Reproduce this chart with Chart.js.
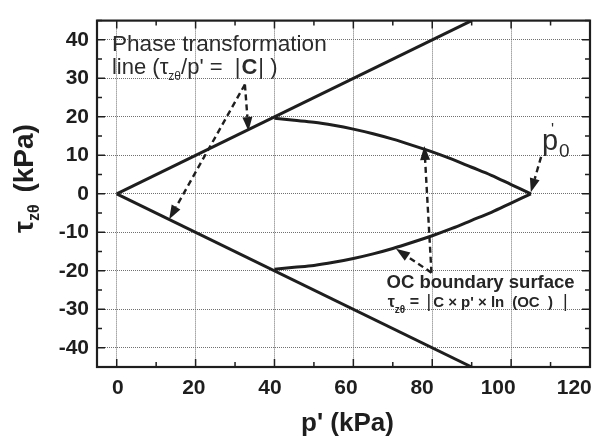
<!DOCTYPE html>
<html><head><meta charset="utf-8">
<script src="https://cdn.jsdelivr.net/npm/chart.js@4"></script>
<style>html,body{margin:0;padding:0;background:#fff;overflow:hidden}canvas{display:block}</style>
</head><body>
<canvas id="c" width="597" height="438"></canvas>
<script>
// ---- data ----
const xTicks = [0, 20, 40, 60, 80, 100, 120];
const yTicks = [-40, -30, -20, -10, 0, 10, 20, 30, 40];
const ptlX = [0, 90];
const ptlUpper = [0, 45];
const ptlLower = [0, -45];
const ocX = [40, 45, 50, 55, 60, 65, 70, 75, 80, 85, 90, 95, 100, 105];
const ocUpper = [19.6, 19.1, 18.6, 17.8, 16.8, 15.6, 14.2, 12.6, 10.9, 9.0, 6.9, 4.8, 2.4, 0];
const ocLower = [-19.6, -19.1, -18.6, -17.8, -16.8, -15.6, -14.2, -12.6, -10.9, -9.0, -6.9, -4.8, -2.4, 0];
// annotation arrows (data space): start / end
const arrowStart = [[32.5, 28.4], [32.5, 28.4], [107.6, 9.6], [79.8, -20.5], [79.8, -20.5]];
const arrowEnd   = [[33.4, 16.3], [13.3, -6.6], [105.0, 0.4], [78.0, 12.4], [70.8, -14.3]];

const FONT = '"Liberation Sans", Arial, Helvetica, sans-serif';
const INK = '#1e1e1e';
const mk = (xs, ys) => xs.map((x, i) => ({x: x, y: ys[i]}));
const lineStyle = {showLine: true, borderColor: INK, borderWidth: 3, pointRadius: 0, fill: false};

function runs(ctx, x, y, parts) {
  for (const p of parts) {
    ctx.font = p.f;
    ctx.fillText(p.t, x, y + (p.dy || 0));
    x += ctx.measureText(p.t).width + (p.gap || 0);
  }
  return x;
}

const decor = {
  id: 'decor',
  afterDatasetsDraw(chart) {
    const ctx = chart.ctx, xs = chart.scales.x, ys = chart.scales.y;
    ctx.save();
    ctx.strokeStyle = INK; ctx.fillStyle = INK; ctx.lineWidth = 2.4;
    for (let i = 0; i < arrowStart.length; i++) {
      const x1 = xs.getPixelForValue(arrowStart[i][0]), y1 = ys.getPixelForValue(arrowStart[i][1]);
      const x2 = xs.getPixelForValue(arrowEnd[i][0]), y2 = ys.getPixelForValue(arrowEnd[i][1]);
      const a = Math.atan2(y2 - y1, x2 - x1), L = 14, W = 5;
      const bx = x2 - L * Math.cos(a), by = y2 - L * Math.sin(a);
      ctx.setLineDash([6, 4]);
      ctx.beginPath(); ctx.moveTo(x1, y1); ctx.lineTo(bx, by); ctx.stroke();
      ctx.setLineDash([]);
      ctx.beginPath();
      ctx.moveTo(x2, y2);
      ctx.lineTo(bx + W * Math.sin(a), by - W * Math.cos(a));
      ctx.lineTo(bx - W * Math.sin(a), by + W * Math.cos(a));
      ctx.closePath(); ctx.fill();
    }
    ctx.restore();
  },
  afterDraw(chart) {
    const ctx = chart.ctx, xs = chart.scales.x, ys = chart.scales.y, a = chart.chartArea;
    ctx.save();
    // minor/major ticks inward on all four sides
    ctx.strokeStyle = INK; ctx.lineWidth = 1.5;
    for (let v = 0; v <= 120; v += 10) {
      const p = xs.getPixelForValue(v), l = (v % 20 === 0) ? 8 : 5;
      ctx.beginPath();
      ctx.moveTo(p, a.bottom); ctx.lineTo(p, a.bottom - l);
      ctx.moveTo(p, a.top); ctx.lineTo(p, a.top + l);
      ctx.stroke();
    }
    for (let v = -45; v <= 45; v += 5) {
      const p = ys.getPixelForValue(v), l = (v % 10 === 0) ? 8 : 5;
      ctx.beginPath();
      ctx.moveTo(a.left, p); ctx.lineTo(a.left + l, p);
      ctx.moveTo(a.right, p); ctx.lineTo(a.right - l, p);
      ctx.stroke();
    }
    // frame
    ctx.lineWidth = 2.2;
    ctx.strokeRect(a.left, a.top, a.right - a.left, a.bottom - a.top);

    ctx.fillStyle = INK;
    // x tick labels
    ctx.font = 'bold 21px ' + FONT; ctx.textAlign = 'center'; ctx.textBaseline = 'alphabetic';
    const p0 = xs.getPixelForValue(0);
    for (const v of xTicks) {
      const p = xs.getPixelForValue(v);
      ctx.fillText(String(v), p0 + 1 + (p - p0) * 0.9646, a.bottom + 27);
    }
    // x title
    ctx.font = 'bold 26px ' + FONT;
    ctx.fillText("p' (kPa)", (a.left + a.right) / 2 + 4, 431);
    ctx.textAlign = 'left';
    // y title (rotated)
    ctx.save();
    ctx.translate(33, 233); ctx.rotate(-Math.PI / 2);
    runs(ctx, 0, 0, [
      {t: 'τ', f: 'bold 27px ' + FONT},
      {t: 'zθ', f: 'bold 16px ' + FONT, dy: 6, gap: 4},
      {t: ' (kPa)', f: 'bold 28px ' + FONT}
    ]);
    ctx.restore();

    // Phase transformation text
    ctx.fillStyle = '#2b2b2b';
    let tx = xs.getPixelForValue(-1.2), ty = ys.getPixelForValue(37.2);
    ctx.font = '22.6px ' + FONT; ctx.fillText('Phase transformation', tx, ty);
    ty = ys.getPixelForValue(31.0);
    runs(ctx, tx, ty, [
      {t: 'line (', f: '22px ' + FONT},
      {t: 'τ', f: '22px ' + FONT},
      {t: 'zθ', f: '12px ' + FONT, dy: 6},
      {t: "/p' =  ", f: '22px ' + FONT},
      {t: '|', f: '22px ' + FONT, gap: 1},
      {t: 'C', f: 'bold 22px ' + FONT, gap: 1},
      {t: '| )', f: '22px ' + FONT}
    ]);
    // p'0 label
    tx = xs.getPixelForValue(107.8); ty = ys.getPixelForValue(11.4);
    ctx.font = '29px ' + FONT; ctx.fillText('p', tx, ty);
    ctx.font = '16px ' + FONT; ctx.fillText("'", tx + 9, ty - 15);
    ctx.font = '19px ' + FONT; ctx.fillText('0', tx + 17, ty + 7);

    // OC boundary surface text
    ctx.fillStyle = '#262626';
    tx = xs.getPixelForValue(68.4); ty = ys.getPixelForValue(-24.4);
    ctx.font = 'bold 18.5px ' + FONT; ctx.fillText('OC boundary surface', tx, ty);
    tx = xs.getPixelForValue(68.7); ty = ys.getPixelForValue(-29.5);
    runs(ctx, tx, ty, [
      {t: 'τ', f: 'bold 16px ' + FONT},
      {t: 'zθ', f: 'bold 10px ' + FONT, dy: 6},
      {t: ' = ', f: 'bold 16px ' + FONT, gap: 3},
      {t: '|', f: '18px ' + FONT, gap: 2},
      {t: "C × p' × ln", f: 'bold 15px ' + FONT, gap: 8},
      {t: '(OC  )', f: 'bold 15px ' + FONT, gap: 10},
      {t: '|', f: '18px ' + FONT}
    ]);
    ctx.restore();
  }
};

new Chart(document.getElementById('c'), {
  type: 'scatter',
  data: {
    datasets: [
      Object.assign({data: mk(ptlX, ptlUpper)}, lineStyle),
      Object.assign({data: mk(ptlX, ptlLower)}, lineStyle),
      Object.assign({data: mk(ocX, ocUpper), cubicInterpolationMode: 'monotone'}, lineStyle),
      Object.assign({data: mk(ocX, ocLower), cubicInterpolationMode: 'monotone'}, lineStyle)
    ]
  },
  options: {
    responsive: false,
    animation: false,
    events: [],
    layout: {padding: {top: 5, right: 7, bottom: 0, left: 0}},
    plugins: {legend: {display: false}, tooltip: {enabled: false}},
    scales: {
      x: {
        type: 'linear', min: -5, max: 120,
        afterBuildTicks: s => { s.ticks = xTicks.map(v => ({value: v})); },
        afterFit: s => { s.height = 71; s.paddingLeft = 0; s.paddingRight = 0; },
        grid: {color: '#707070', lineWidth: 1, drawTicks: false},
        border: {display: false, dash: [1, 1]},
        ticks: {display: false}
      },
      y: {
        type: 'linear', min: -45, max: 45,
        afterBuildTicks: s => { s.ticks = yTicks.map(v => ({value: v})); },
        afterFit: s => { s.width = 97; },
        grid: {color: '#707070', lineWidth: 1, drawTicks: false},
        border: {display: false, dash: [1, 1]},
        ticks: {padding: 8, color: INK, font: {family: FONT, size: 21, weight: 'bold'}}
      }
    }
  },
  plugins: [decor]
});
</script>
</body></html>
